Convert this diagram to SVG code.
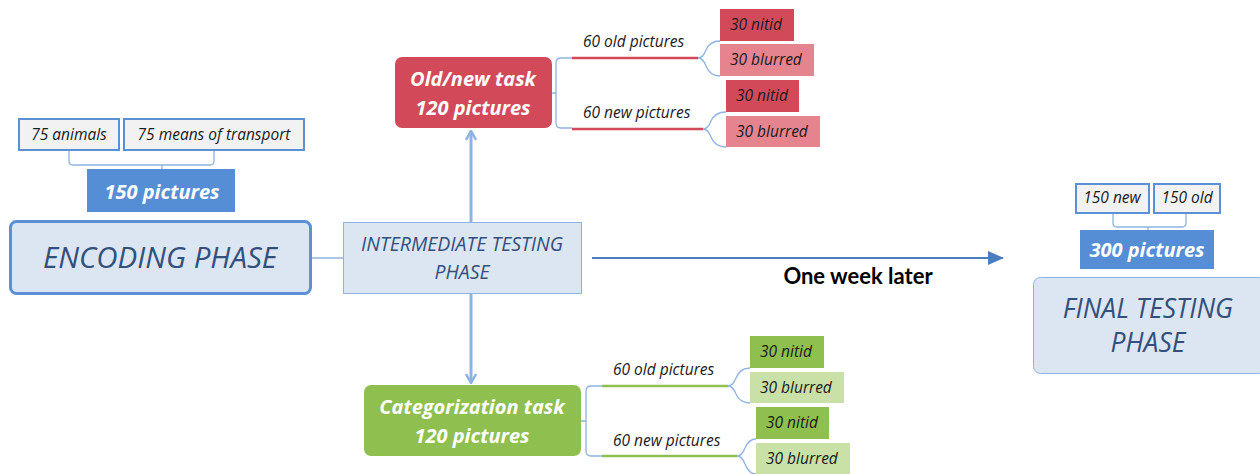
<svg xmlns="http://www.w3.org/2000/svg" width="1260" height="474" viewBox="0 0 1260 474">
<style>
text{font-family:"Open Sans","DejaVu Sans",sans-serif;font-style:italic;}
.phase{fill:#dce6f2;}
.ph{fill:#33507c;text-anchor:middle;}
.small{font-size:15.5px;fill:#1a1a1a;}
.lab{font-size:15.5px;fill:#1a1a1a;}
.wh{fill:#fff;font-weight:bold;text-anchor:middle;font-size:20px;}
.grey{fill:#f2f2f2;stroke:#5b8fd6;stroke-width:2;}
.br{fill:none;stroke:#8db3e2;stroke-width:1.3;}
.red1{fill:#d24a5a;}
.red2{fill:#e5848f;}
.grn1{fill:#8fbf4f;}
.grn2{fill:#c9e1a7;}
</style>
<defs>
<marker id="chev" viewBox="0 0 12 12" refX="11" refY="6" markerWidth="12" markerHeight="12" markerUnits="userSpaceOnUse" orient="auto">
<polyline points="2,1 11,6 2,11" fill="none" stroke="#8db3e2" stroke-width="2.5"/>
</marker>
<marker id="tri" viewBox="0 0 16 14" refX="15" refY="7" markerWidth="16" markerHeight="14" markerUnits="userSpaceOnUse" orient="auto">
<polygon points="0,0 16,7 0,14" fill="#4a7ebf"/>
</marker>
</defs>

<g id="connectors">
<line x1="312" y1="258" x2="343" y2="258" stroke="#8db3e2" stroke-width="1.5"/>
<line x1="471" y1="222" x2="471" y2="131" stroke="#8db3e2" stroke-width="3" marker-end="url(#chev)"/>
<line x1="471" y1="293" x2="471" y2="383" stroke="#8db3e2" stroke-width="3" marker-end="url(#chev)"/>
<line x1="592" y1="258" x2="1003" y2="258" stroke="#4a7ebf" stroke-width="2" marker-end="url(#tri)"/>
<path class="br" d="M69,150 V161 Q69,165 73,165 H210 Q214,165 214,161 V150 M162,165 V169"/>
<path class="br" d="M1113,213 V223 Q1113,227 1117,227 H1182 Q1186,227 1186,223 V213 M1148,227 V230"/>
<path class="br" d="M552,93 H556 M572,58 H561 Q556,58 556,63 V123 Q556,128 561,128 H572"/>
<line x1="572" y1="58" x2="698" y2="58" stroke="#d24a5a" stroke-width="2.5"/>
<line x1="572" y1="129" x2="703" y2="129" stroke="#d24a5a" stroke-width="2.5"/>
<path class="br" d="M698,58 Q703,58 706,50 Q710,41 720,41 M698,58 Q703,58 706,66 Q710,76 720,76"/>
<path class="br" d="M703,129 Q708,129 711,121 Q715,112 726,112 M703,129 Q708,129 711,137 Q715,147 726,147"/>
<path class="br" d="M581,421 H586 M602,386 H591 Q586,386 586,391 V451 Q586,456 591,456 H602"/>
<line x1="602" y1="386" x2="728" y2="386" stroke="#8fbf4f" stroke-width="2.5"/>
<line x1="602" y1="456" x2="737" y2="456" stroke="#8fbf4f" stroke-width="2.5"/>
<path class="br" d="M728,386 Q733,386 736,378 Q740,368 750,368 M728,386 Q733,386 736,394 Q740,403 750,403"/>
<path class="br" d="M737,456 Q742,456 745,448 Q749,439 756,439 M737,456 Q742,456 745,464 Q749,474 756,474"/>
</g>

<g id="encoding">
<rect class="phase" x="10.5" y="221.5" width="300" height="72" rx="6" stroke="#5b8fd6" stroke-width="3"/>
<text class="ph" x="160" y="268" font-size="29.5">ENCODING PHASE</text>
</g>
<g id="animals">
<rect class="grey" x="19" y="119" width="100" height="31"/>
<text class="small" x="69" y="140" text-anchor="middle">75 animals</text>
</g>
<g id="transport">
<rect class="grey" x="124" y="119" width="180" height="31"/>
<text class="small" x="214" y="140" text-anchor="middle">75 means of transport</text>
</g>
<g id="pic150">
<rect x="87" y="169" width="148" height="43" fill="#558ed5"/>
<text class="wh" x="162" y="199" font-size="21.5">150 pictures</text>
</g>

<g id="intermediate">
<rect class="phase" x="343.5" y="222.5" width="238" height="71" stroke="#8db3e2" stroke-width="1"/>
<text class="ph" x="462" y="251" font-size="19.5">INTERMEDIATE TESTING</text>
<text class="ph" x="462" y="279" font-size="19.5">PHASE</text>
</g>

<g id="oldnew">
<rect x="395" y="57" width="157" height="71" rx="7" fill="#d24a5a"/>
<text class="wh" x="473" y="86">Old/new task</text>
<text class="wh" x="473" y="115">120 pictures</text>
</g>
<g id="on-old-label"><text class="lab" x="583" y="47">60 old pictures</text></g>
<g id="on-new-label"><text class="lab" x="583" y="118">60 new pictures</text></g>
<g id="on-old-nitid"><rect class="red1" x="720" y="9" width="74" height="32"/><text class="lab" x="730" y="30">30 nitid</text></g>
<g id="on-old-blurred"><rect class="red2" x="720" y="44" width="94" height="32"/><text class="lab" x="730" y="65">30 blurred</text></g>
<g id="on-new-nitid"><rect class="red1" x="726" y="80" width="73" height="32"/><text class="lab" x="736" y="101">30 nitid</text></g>
<g id="on-new-blurred"><rect class="red2" x="726" y="116" width="94" height="31"/><text class="lab" x="736" y="137">30 blurred</text></g>

<g id="categorization">
<rect x="364" y="385" width="217" height="71" rx="7" fill="#8fbf4f"/>
<text class="wh" x="472" y="414">Categorization task</text>
<text class="wh" x="472" y="443">120 pictures</text>
</g>
<g id="c-old-label"><text class="lab" x="613" y="375">60 old pictures</text></g>
<g id="c-new-label"><text class="lab" x="613" y="446">60 new pictures</text></g>
<g id="c-old-nitid"><rect class="grn1" x="750" y="336" width="74" height="32"/><text class="lab" x="760" y="357">30 nitid</text></g>
<g id="c-old-blurred"><rect class="grn2" x="750" y="372" width="94" height="31"/><text class="lab" x="760" y="393">30 blurred</text></g>
<g id="c-new-nitid"><rect class="grn1" x="756" y="407" width="73" height="32"/><text class="lab" x="766" y="428">30 nitid</text></g>
<g id="c-new-blurred"><rect class="grn2" x="756" y="443" width="94" height="31"/><text class="lab" x="766" y="464">30 blurred</text></g>

<g id="week-label"><text x="858" y="284" font-size="22" font-weight="bold" text-anchor="middle" fill="#000" style="font-family:Lato,'Liberation Sans',sans-serif;font-style:normal">One week later</text></g>

<g id="final">
<rect class="phase" x="1033.5" y="277.5" width="232" height="96" rx="7" stroke="#8db3e2" stroke-width="1"/>
<text class="ph" x="1148" y="318" font-size="26.5">FINAL TESTING</text>
<text class="ph" x="1148" y="352" font-size="26.5">PHASE</text>
</g>
<g id="new150"><rect class="grey" x="1076" y="184" width="73" height="29"/><text class="small" x="1112" y="203" text-anchor="middle" font-size="13.5">150 new</text></g>
<g id="old150"><rect class="grey" x="1154" y="184" width="66" height="29"/><text class="small" x="1187" y="203" text-anchor="middle" font-size="13.5">150 old</text></g>
<g id="pic300">
<rect x="1080" y="230" width="134" height="39" fill="#558ed5"/>
<text class="wh" x="1147" y="257" font-size="19">300 pictures</text>
</g>
</svg>
